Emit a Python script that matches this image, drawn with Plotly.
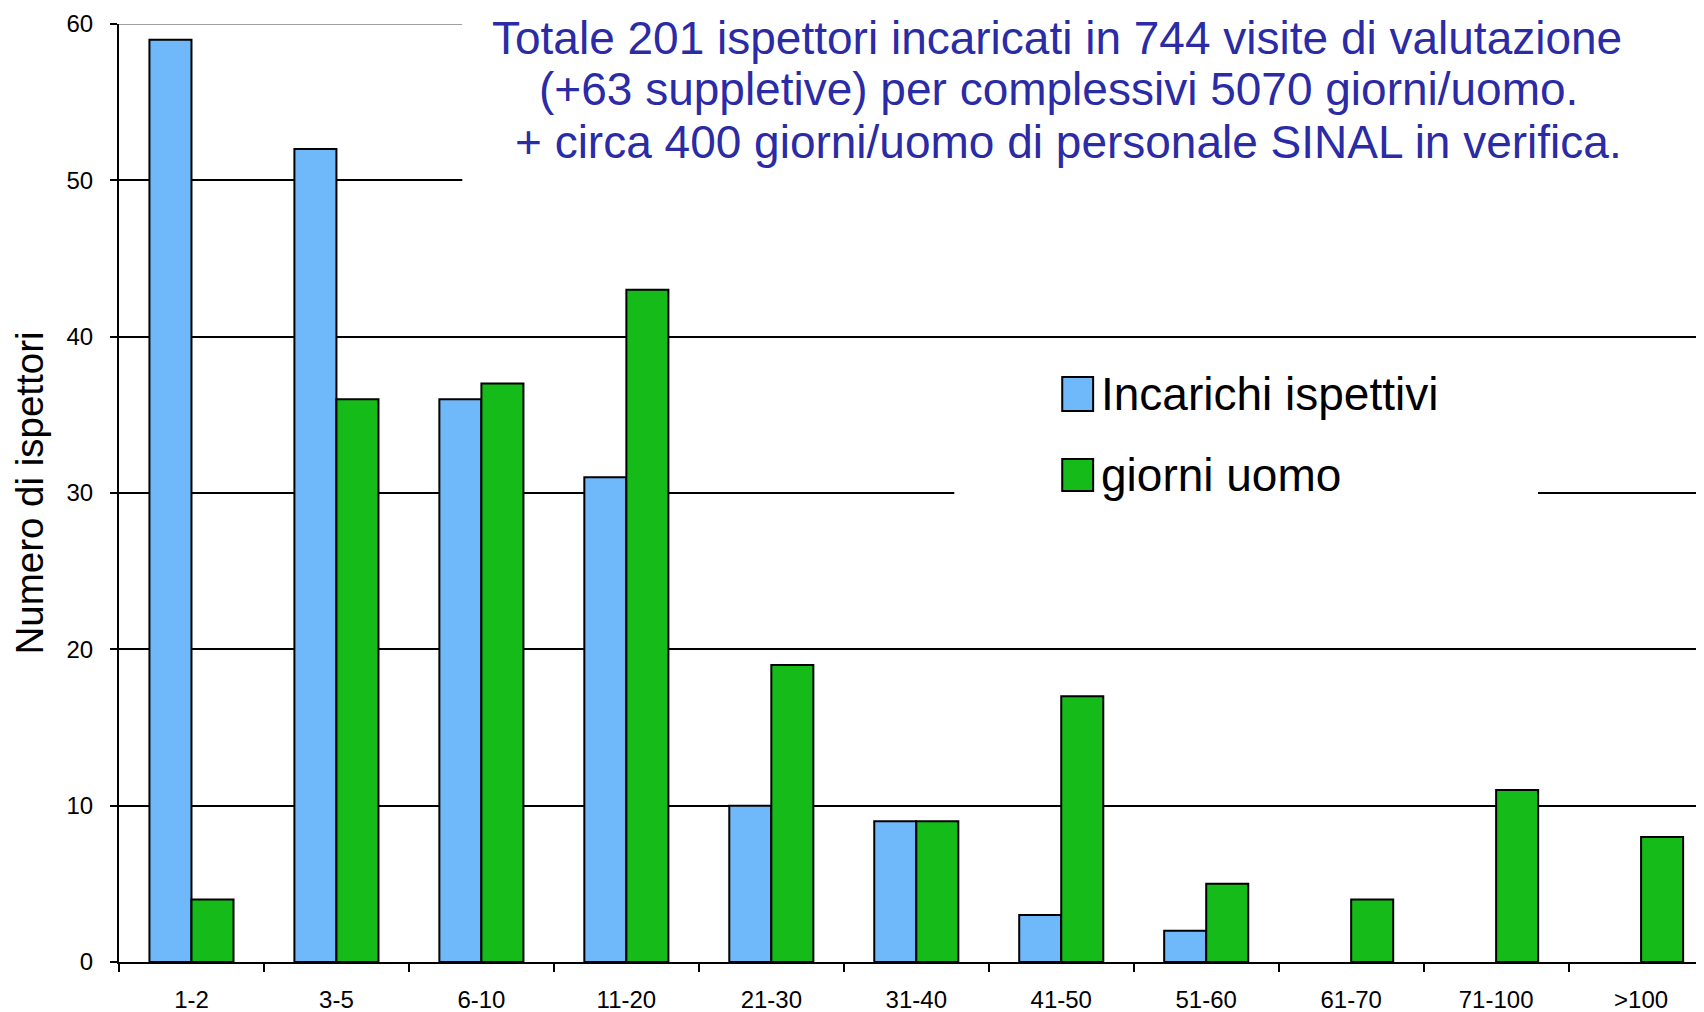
import plotly.graph_objects as go

categories = ["1-2", "3-5", "6-10", "11-20", "21-30", "31-40", "41-50", "51-60", "61-70", "71-100", ">100"]
incarichi = [59, 52, 36, 31, 10, 9, 3, 2, 0, 0, 0]
giorni = [4, 36, 37, 43, 19, 9, 17, 5, 4, 11, 8]
series_names = ["Incarichi ispettivi", "giorni uomo"]
series_colors = ["#6FB8F9", "#14BB19"]
y_ticks = [0, 10, 20, 30, 40, 50, 60]
title_lines = [
    "Totale 201 ispettori incaricati in 744 visite di valutazione",
    "(+63 suppletive) per complessivi 5070 giorni/uomo.",
    "+ circa 400 giorni/uomo di personale SINAL in verifica.",
]
y_title = "Numero di ispettori"

FONT = "Liberation Sans, Arial, sans-serif"

fig = go.Figure()
for name, vals, col in zip(series_names, [incarichi, giorni], series_colors):
    fig.add_trace(go.Bar(
        x=categories, y=vals, name=name,
        marker=dict(color=col, line=dict(color="black", width=[2 if v else 0 for v in vals])),
        showlegend=False,
    ))

# top gridline (grey, partially visible as in the original)
fig.add_shape(type="line", xref="paper", yref="y", x0=0, x1=0.2166, y0=y_ticks[-1], y1=y_ticks[-1],
              line=dict(color="#A0A0A0", width=2), layer="above")

# white boxes behind title and legend (hide gridlines, like the original)
fig.add_shape(type="rect", xref="paper", yref="paper", x0=0.2166, x1=1.05, y0=0.812, y1=1.06,
              fillcolor="white", line=dict(width=0), layer="above")
fig.add_shape(type="rect", xref="paper", yref="paper", x0=0.527, x1=0.8953, y0=0.4286, y1=0.6525,
              fillcolor="white", line=dict(width=0), layer="above")

# manual legend
leg_rows = [(0.5874, 0.6237, 0.6055), (0.5021, 0.5362, 0.5192)]
for (y0, y1, yc), name, col in zip(leg_rows, series_names, series_colors):
    fig.add_shape(type="rect", xref="paper", yref="paper", x0=0.5951, x1=0.6146, y0=y0, y1=y1,
                  fillcolor=col, line=dict(color="black", width=2), layer="above")
    fig.add_annotation(xref="paper", yref="paper", x=0.6184, y=yc, xanchor="left", yanchor="middle",
                       text=name, showarrow=False, font=dict(family=FONT, size=46, color="black"))

# title block, one annotation per line
title_pos = [(0.5919, 0.9851), (0.5925, 0.9312), (0.5988, 0.8747)]
for line, (tx, ty) in zip(title_lines, title_pos):
    fig.add_annotation(xref="paper", yref="paper", x=tx, y=ty, xanchor="center", yanchor="middle",
                       text=line, showarrow=False, borderpad=0,
                       font=dict(family=FONT, size=46, color="#2B2BA6"))

fig.update_layout(
    width=1696, height=1004,
    margin=dict(l=110.6, r=0, t=16, b=50),
    paper_bgcolor="white", plot_bgcolor="white",
    barmode="group", bargap=0.42, bargroupgap=0,
    font=dict(family=FONT, color="black"),
    showlegend=False,
)
fig.update_xaxes(
    type="category", range=[-0.5, 10.434],
    showgrid=False, showline=True, linecolor="black", linewidth=2,
    ticks="outside", tickson="boundaries", ticklen=8, tickwidth=2, tickcolor="black",
    tickfont=dict(family=FONT, size=24, color="black"),
    ticklabelstandoff=15,
)
fig.update_yaxes(
    range=[0, 60], tickvals=y_ticks,
    showgrid=True, gridcolor="black", gridwidth=2,
    showline=True, linecolor="black", linewidth=2,
    ticks="outside", ticklen=7, tickwidth=2, tickcolor="black",
    tickfont=dict(family=FONT, size=24, color="black"),
    ticklabelstandoff=12, zeroline=False,
    title=dict(text=y_title, font=dict(family=FONT, size=38.5, color="black"), standoff=12),
)

fig.write_html("out.html")
